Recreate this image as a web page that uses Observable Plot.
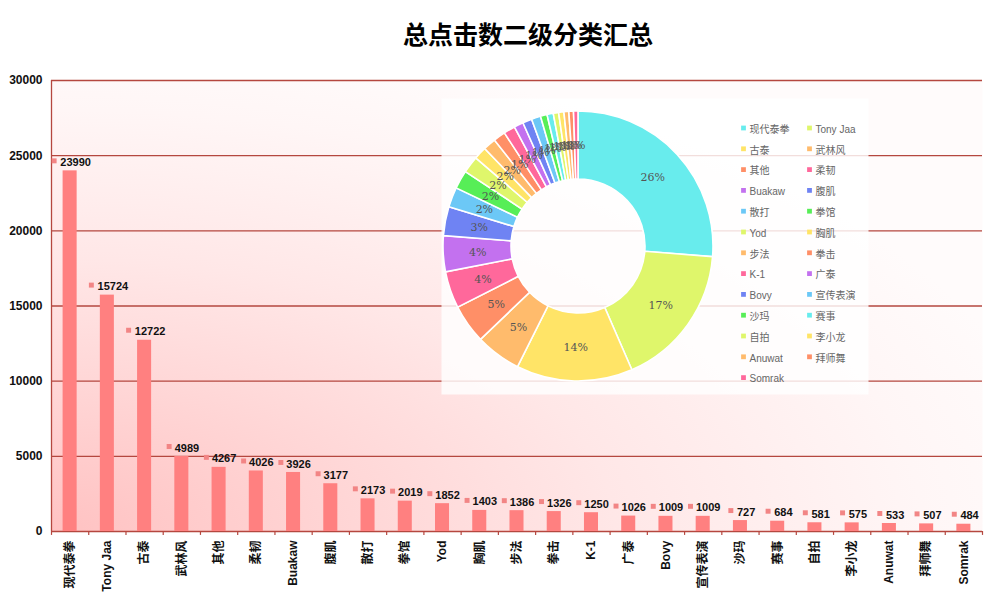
<!DOCTYPE html>
<html>
<head>
<meta charset="utf-8">
<script src="https://cdn.jsdelivr.net/npm/d3@7"></script>
<script src="https://cdn.jsdelivr.net/npm/@observablehq/plot@0.6"></script>
<style>
  body { margin: 0; background: #fff; }
  #wrap { position: relative; width: 991px; height: 597px; overflow: hidden;
          font-family: "Liberation Sans", "Noto Sans CJK SC", sans-serif; }
  #title { position: absolute; left: 0; top: 15px; width: 1056px; text-align: center;
           font: bold 25px "Noto Sans CJK SC", sans-serif; color: #000; }
  #bars { position: absolute; left: 0; top: 0; }
  #donut { position: absolute; left: 441px; top: 98px; }
</style>
</head>
<body>
<div id="wrap">
  <div id="bars"></div>
  <div id="title">总点击数二级分类汇总</div>
  <div id="donut"></div>
</div>
<script>
// ---------- data ----------
const categories = ["现代泰拳","Tony Jaa","古泰","武林风","其他","柔韧","Buakaw","腹肌","散打","拳馆","Yod","胸肌","步法","拳击","K-1","广泰","Bovy","宣传表演","沙玛","赛事","自拍","李小龙","Anuwat","拜师舞","Somrak"];
const clicks = [23990,15724,12722,4989,4267,4026,3926,3177,2173,2019,1852,1403,1386,1326,1250,1026,1009,1009,727,684,581,575,533,507,484];
const yTicks = [0,5000,10000,15000,20000,25000,30000];

// ---------- styles ----------
const C = {cyan:"#68eced", lime:"#dff66b", yellow:"#ffe467", orange:"#ffbb6c", salmon:"#ff8f67",
           pink:"#ff689b", purple:"#c371ef", blue:"#6f83f3", lightblue:"#6cc8f6", green:"#57ee57"};
const sliceColors = [C.cyan,C.lime,C.yellow,C.orange,C.salmon,C.pink,C.purple,C.blue,C.lightblue,C.green,
                     C.lime,C.yellow,C.orange,C.salmon,C.pink,C.purple,C.blue,C.lightblue,C.green,
                     C.cyan,C.lime,C.yellow,C.orange,C.salmon,C.pink];
const gridColor = "#b5473f";
const barColor = "#ff8080";
const markerColor = "#f28585";

const data = categories.map((cat, i) => ({cat, v: clicks[i], i}));

// ---------- bar chart ----------
const W = 991, H = 597, mL = 51, mR = 9, mT = 80, mB = 66;
const bw = (W - mL - mR) / categories.length;
const sqOff = {3: -9.6, 4: -12.7, 5: -16};
const txOff = {3: -3.5, 4: -7.2, 5: -9.8};
const labelMarks = [3, 4, 5].flatMap(n => {
  const f = d => String(d.v).length === n;
  return [
    Plot.dot(data, {filter: f, x: "cat", y: "v", symbol: "square", r: 2.8, fill: markerColor, stroke: "none", dx: sqOff[n], dy: -10}),
    Plot.text(data, {filter: f, x: "cat", y: "v", text: d => String(d.v), textAnchor: "start",
                     dx: txOff[n], dy: -8.5, fontWeight: "bold", fontSize: 11, fill: "#111"})
  ];
});

const barsSvg = Plot.plot({
  width: W, height: H, marginTop: mT, marginBottom: mB, marginLeft: mL, marginRight: mR,
  style: {background: "transparent", fontFamily: "'Liberation Sans','Noto Sans CJK SC',sans-serif", overflow: "visible"},
  x: {type: "band", domain: categories, padding: 0, round: false, label: null},
  y: {domain: [0, 30000], label: null},
  marks: [
    Plot.frame({fill: "url(#bgGrad)", stroke: "none"}),
    Plot.ruleY(yTicks, {stroke: gridColor, strokeWidth: 1.3}),
    Plot.ruleX([categories[0]], {dx: -bw / 2, stroke: gridColor, strokeWidth: 1.3}),
    Plot.barY(data, {x: "cat", y: "v", fill: barColor, insetLeft: 11.6, insetRight: 11.6}),
    Plot.ruleX(categories, {x: d => d, y1: 0, y2: -260, dx: -bw / 2, stroke: gridColor, strokeWidth: 1.2}),
    Plot.ruleX([categories[categories.length - 1]], {y1: 0, y2: -260, dx: bw / 2, stroke: gridColor, strokeWidth: 1.2}),
    Plot.axisY(yTicks, {tickSize: 0, tickPadding: 9, tickFormat: d => String(d), fontWeight: "bold", fontSize: 12, color: "#111", label: null}),
    Plot.axisX({tickSize: 0, tickRotate: -90, tickPadding: 9, fontWeight: "bold", fontSize: 12, color: "#111", label: null}),
    ...labelMarks
  ]
});
const defs = d3.select(barsSvg).insert("defs", ":first-child");
const rg = defs.append("radialGradient").attr("id", "bgGrad").attr("cx", 0).attr("cy", 1).attr("r", 1.1);
[[0, "#ffc2c2"], [0.25, "#ffd3d3"], [0.55, "#ffe7e7"], [0.85, "#fff6f6"], [1, "#fffbfb"]].forEach(([o, c]) =>
  rg.append("stop").attr("offset", o).attr("stop-color", c));
document.getElementById("bars").appendChild(barsSvg);

// ---------- donut + legend overlay ----------
const PW = 427, PH = 296;
const cx = 137, cy = 148, R = 135, R0 = 67, Rm = (R + R0) / 2;
const total = d3.sum(clicks);
const arcs = d3.pie().sort(null).value(d => d.v)(data);
const colorFallback = d3.scaleOrdinal(categories, sliceColors);

const arcMark = (index, scales) => {
  const color = scales && scales.color ? scales.color : colorFallback;
  const arc = d3.arc().innerRadius(R0).outerRadius(R);
  const g = d3.create("svg:g").attr("transform", `translate(${scales.x(cx)},${scales.y(cy)})`);
  g.selectAll("path").data(arcs).join("path")
    .attr("d", arc)
    .attr("fill", a => color(a.data.cat))
    .attr("stroke", "white").attr("stroke-width", 1.6);
  return g.node();
};

const legX = 302, legY = 31, colW = 66, rowH = 20.8;
const donutSvg = Plot.plot({
  width: PW, height: PH, margin: 0,
  style: {background: "transparent", overflow: "visible"},
  x: {domain: [0, PW], range: [0, PW], axis: null},
  y: {domain: [0, PH], range: [0, PH], axis: null},
  color: {domain: categories, range: sliceColors},
  marks: [
    Plot.frame({fill: "white", fillOpacity: 0.82, stroke: "none"}),
    arcMark,
    Plot.text(arcs, {
      x: a => cx + Rm * Math.sin((a.startAngle + a.endAngle) / 2),
      y: a => cy - Rm * Math.cos((a.startAngle + a.endAngle) / 2),
      text: a => Math.round(a.data.v / total * 100) + "%",
      fontSize: 11, fontFamily: "'DejaVu Serif','Liberation Serif',serif", fill: "#555"
    }),
    Plot.dot(data, {x: d => legX + (d.i % 2) * colW, y: d => legY - 1.5 + Math.floor(d.i / 2) * rowH,
                    fill: "cat", symbol: "square", r: 2.7, stroke: "none"}),
    Plot.text(data, {x: d => legX + 6 + (d.i % 2) * colW, y: d => legY + Math.floor(d.i / 2) * rowH,
                     text: "cat", textAnchor: "start", fontSize: 10, fill: "#666",
                     fontFamily: "'Liberation Sans','Noto Sans CJK SC',sans-serif"})
  ]
});
document.getElementById("donut").appendChild(donutSvg);
</script>
</body>
</html>
